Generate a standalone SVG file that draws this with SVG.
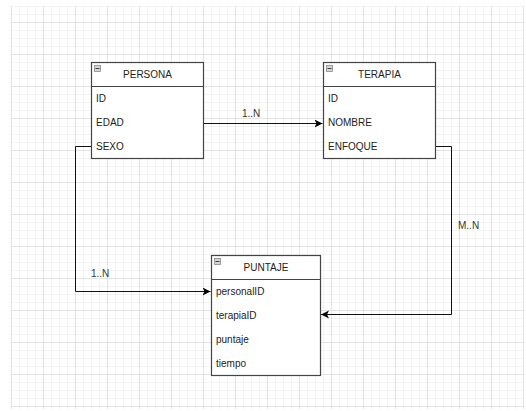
<svg xmlns="http://www.w3.org/2000/svg" width="526" height="411" viewBox="0 0 526 411">
  <defs>
    <pattern id="grid" patternUnits="userSpaceOnUse" x="11" y="22" width="32" height="32">
      <rect x="0" y="0" width="32" height="32" fill="#ffffff"/>
      <rect x="8" y="0" width="1" height="32" fill="#f3f3f3"/>
      <rect x="16" y="0" width="1" height="32" fill="#f3f3f3"/>
      <rect x="24" y="0" width="1" height="32" fill="#f3f3f3"/>
      <rect x="0" y="8" width="32" height="1" fill="#f3f3f3"/>
      <rect x="0" y="16" width="32" height="1" fill="#f3f3f3"/>
      <rect x="0" y="24" width="32" height="1" fill="#f3f3f3"/>
      <rect x="0" y="0" width="1" height="32" fill="#e4e4e4"/>
      <rect x="0" y="0" width="32" height="1" fill="#e4e4e4"/>
    </pattern>
    <marker id="arrow" markerUnits="userSpaceOnUse" markerWidth="10" markerHeight="10" refX="8" refY="4" orient="auto">
      <path d="M0,0 L8,4 L0,8 L2,4 Z" fill="#000"/>
    </marker>
  </defs>
  <style>
    .box { fill: #ffffff; stroke: #444444; stroke-width: 1.2; }
    .sep { stroke: #444444; stroke-width: 1.2; }
    .icon { fill: #d4d4d4; stroke: #8a8a8a; stroke-width: 0.8; }
    .minus { stroke: #444444; stroke-width: 1; }
    .title { font-family: "Liberation Sans", Arial, sans-serif; font-size: 10px; fill: #222222; text-anchor: middle; }
    .row { font-family: "Liberation Sans", Arial, sans-serif; font-size: 10px; fill: #222222; }
    .lbl { font-family: "Liberation Sans", Arial, sans-serif; font-size: 10px; fill: #333333; }
    .edge { fill: none; stroke: #111111; stroke-width: 1; }
  </style>
  <rect x="10" y="6" width="514" height="403" fill="url(#grid)"/>

  <g id="connectors">
    <path class="edge" d="M203.5,123.5 H322.5" marker-end="url(#arrow)"/>
    <path class="edge" d="M91.5,146.5 H75.5 V291.5 H210.5" marker-end="url(#arrow)"/>
    <path class="edge" d="M435.5,146.5 H451.5 V314.5 H321" marker-end="url(#arrow)"/>
    <text class="lbl" x="242" y="117">1..N</text>
    <text class="lbl" x="91" y="277">1..N</text>
    <text class="lbl" x="458" y="229">M..N</text>
  </g>

  <g id="persona">
    <rect class="box" x="91.5" y="62.5" width="112" height="96"/>
    <line class="sep" x1="91.5" y1="86.5" x2="203.5" y2="86.5"/>
    <rect class="icon" x="94.5" y="65.5" width="6" height="6"/>
    <line class="minus" x1="95.5" y1="68.5" x2="99.5" y2="68.5"/>
    <text class="title" x="147.5" y="78">PERSONA</text>
    <text class="row" x="96" y="102">ID</text>
    <text class="row" x="96" y="126">EDAD</text>
    <text class="row" x="96" y="150">SEXO</text>
  </g>

  <g id="terapia">
    <rect class="box" x="323.5" y="62.5" width="112" height="96"/>
    <line class="sep" x1="323.5" y1="86.5" x2="435.5" y2="86.5"/>
    <rect class="icon" x="326.5" y="65.5" width="6" height="6"/>
    <line class="minus" x1="327.5" y1="68.5" x2="331.5" y2="68.5"/>
    <text class="title" x="379.5" y="78">TERAPIA</text>
    <text class="row" x="328" y="102">ID</text>
    <text class="row" x="328" y="126">NOMBRE</text>
    <text class="row" x="328" y="150">ENFOQUE</text>
  </g>

  <g id="puntaje">
    <rect class="box" x="211.5" y="255.5" width="109" height="120"/>
    <line class="sep" x1="211.5" y1="279.5" x2="320.5" y2="279.5"/>
    <rect class="icon" x="214.5" y="258.5" width="6" height="6"/>
    <line class="minus" x1="215.5" y1="261.5" x2="219.5" y2="261.5"/>
    <text class="title" x="266" y="271">PUNTAJE</text>
    <text class="row" x="216" y="295">personalID</text>
    <text class="row" x="216" y="319">terapiaID</text>
    <text class="row" x="216" y="343">puntaje</text>
    <text class="row" x="216" y="367">tiempo</text>
  </g>
</svg>
